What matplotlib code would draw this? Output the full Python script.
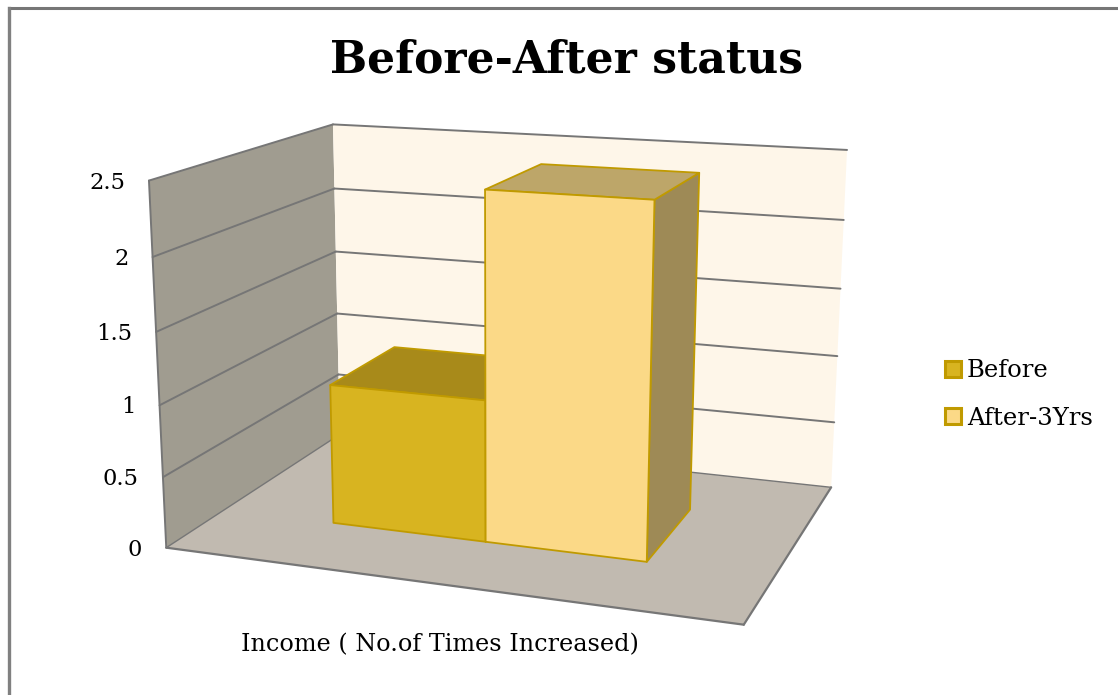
import numpy as np
import matplotlib
matplotlib.use("Agg")
import matplotlib.pyplot as plt
from matplotlib.patches import Polygon, Patch

title = "Before-After status"
category = "Income ( No.of Times Increased)"
series_names = ["Before", "After-3Yrs"]
series_values = [1.0, 2.42]
z_ticks = [0, 0.5, 1, 1.5, 2, 2.5]
z_tick_labels = ["0", "0.5", "1", "1.5", "2", "2.5"]

front_colors = ["#D8B420", "#FBD987"]
top_colors = ["#A88A1A", "#BDA669"]
side_colors = ["#9E8A56", "#9E8A56"]
edge_color = "#C09A00"
line_gray = "#767676"
font = "DejaVu Serif"

# chart box corners -> pixels, used to fit the perspective of the 3d chart
# (x along category, d into the page, z value)
box_3d = np.array([(0, 0, 0), (1, 0, 0), (1, 1, 0), (0, 1, 0),
                   (0, 0, 2.5), (0, 1, 2.5), (1, 1, 2.5)], dtype=float)
box_px = np.array([(166, 547), (744, 625), (831, 487), (340, 435),
                   (149, 181), (333, 124), (847, 150)], dtype=float)


def fit_camera(p3, p2):
    rows = []
    rhs = []
    for (x, d, z), (u, v) in zip(p3, p2):
        rows.append([x, d, z, 1, 0, 0, 0, 0, -u * x, -u * d, -u * z])
        rhs.append(u)
        rows.append([0, 0, 0, 0, x, d, z, 1, -v * x, -v * d, -v * z])
        rhs.append(v)
    m = np.linalg.lstsq(np.array(rows), np.array(rhs), rcond=None)[0]
    return np.append(m, 1).reshape(3, 4)


cam = fit_camera(box_3d, box_px)


def proj(x, d, z):
    h = cam @ np.array([x, d, z, 1.0])
    return h[0] / h[2], h[1] / h[2]


def face(ax, pts, color, ec="none", lw=0.0, zorder=1):
    ax.add_patch(Polygon([proj(*p) for p in pts], closed=True, facecolor=color,
                         edgecolor=ec, linewidth=lw, joinstyle="round", zorder=zorder))


def line3d(ax, a, b, zorder=2, lw=1.4):
    pa, pb = proj(*a), proj(*b)
    ax.plot([pa[0], pb[0]], [pa[1], pb[1]], color=line_gray, lw=lw, zorder=zorder,
            solid_capstyle="round")


fig = plt.figure(figsize=(11.18, 6.95), dpi=100)
ax = fig.add_axes([0, 0, 1, 1])
ax.set_xlim(0, 1118)
ax.set_ylim(695, 0)
ax.axis("off")

# outer frame, only top and left show
ax.plot([8.5, 1118], [8, 8], color="#767676", lw=2.2)
ax.plot([8.5, 8.5], [8, 695], color="#808080", lw=2.4)

zmax = z_ticks[-1]
face(ax, [(0, 0, 0), (1, 0, 0), (1, 1, 0), (0, 1, 0)], "#C1BAB0")
face(ax, [(0, 0, 0), (0, 1, 0), (0, 1, zmax), (0, 0, zmax)], "#A09C90")
face(ax, [(0, 1, 0), (1, 1, 0), (1, 1, zmax), (0, 1, zmax)], "#FEF6E9")

for t in z_ticks[1:]:
    line3d(ax, (0, 0, t), (0, 1, t))
    line3d(ax, (0, 1, t), (1, 1, t))
line3d(ax, (0, 0, 0), (0, 0, zmax))
line3d(ax, (0, 0, 0), (0, 1, 0), lw=1.0)
line3d(ax, (0, 1, 0), (1, 1, 0), lw=1.0)
line3d(ax, (0, 0, 0), (1, 0, 0), lw=1.6)
line3d(ax, (1, 0, 0), (1, 1, 0), lw=1.6)

for t, lab in zip(z_ticks, z_tick_labels):
    px, py = proj(0, 0, t)
    ax.text(px - 24, py + 2, lab, ha="right", va="center", family=font, fontsize=16.3, color="black")

# bars sit side by side in the middle of the floor
x_edges = [0.214, 0.5, 0.786]
d0, d1 = 0.3, 0.7
for i, val in enumerate(series_values):
    x0, x1 = x_edges[i], x_edges[i + 1]
    z = 3 + i
    face(ax, [(x1, d0, 0), (x1, d1, 0), (x1, d1, val), (x1, d0, val)], side_colors[i], edge_color, 1.3, z)
    face(ax, [(x0, d0, val), (x1, d0, val), (x1, d1, val), (x0, d1, val)], top_colors[i], edge_color, 1.3, z)
    face(ax, [(x0, d0, 0), (x1, d0, 0), (x1, d0, val), (x0, d0, val)], front_colors[i], edge_color, 1.3, z)

ax.text(566, 60, title, ha="center", va="center", family=font, fontweight="bold", fontsize=31.7)
ax.text(440, 645, category, ha="center", va="center", family=font, fontsize=17.2)

handles = [Patch(facecolor=c, edgecolor=edge_color, linewidth=2.2) for c in front_colors]
ax.legend(handles, series_names, loc="center left", bbox_to_anchor=(945 / 1118, 1 - 394.5 / 695),
          frameon=False, prop={"family": font, "size": 17.5}, handlelength=0.64, handleheight=0.64,
          handletextpad=0.25, labelspacing=0.99, borderpad=0, borderaxespad=0)

fig.savefig("out.png", dpi=100)
